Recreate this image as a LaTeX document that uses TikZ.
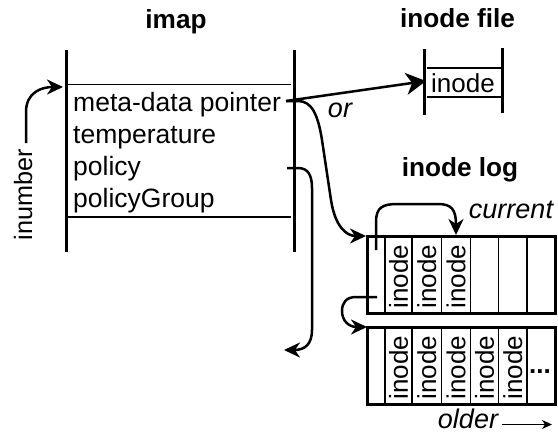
\documentclass[tikz,border=0pt]{standalone}
\usepackage{fontspec}
\setmainfont{Liberation Sans}
\usetikzlibrary{arrows.meta}
\begin{document}
\begin{tikzpicture}[x=1pt,y=-1pt,
  lbl/.style={font=\fontsize{26.5}{30}\selectfont, inner sep=0pt, anchor=base},
  ttl/.style={lbl, font=\fontsize{26.2}{30}\selectfont\bfseries},
  itl/.style={lbl, font=\fontsize{27}{30}\selectfont\itshape},
  rot/.style={font=\fontsize{26}{30}\selectfont, inner sep=0pt, rotate=90},
  wall/.style={line width=3pt},
  rule/.style={line width=1.3pt},
  link/.style={line width=2.5pt, -{Stealth[length=16pt,width=15pt,inset=5pt]}},
  biglink/.style={line width=2.5pt, -{Stealth[length=20pt,width=22pt,inset=6pt]}},
  thinlink/.style={line width=1.5pt, -{Stealth[length=10pt,width=9pt,inset=3pt]}}
]
\path[use as bounding box] (0,0) rectangle (558,434);

% ---- imap table ----
\node[ttl] (imapT) at (176,28) {imap};
\draw[wall] (66,50) -- (66,252);
\draw[wall] (294,50) -- (294,252);
\draw[rule] (66,84.5) -- (291,84.5);
\draw[rule] (66,217) -- (291,217);
\node[lbl, anchor=base west] (md)  at (73,111.5) {meta-data pointer};
\node[lbl, anchor=base west] (tp)  at (73,143)   {temperature};
\node[lbl, anchor=base west] (pol) at (73,175)   {policy};
\node[lbl, anchor=base west] (pg)  at (73,207)   {policyGroup};

% inumber index into the table
\node[rot, font=\fontsize{25.2}{30}\selectfont, anchor=base] (inum) at (32,195) {inumber};
\coordinate (inumTop) at (26,143);
\coordinate (imapIn) at (63,87);
\draw[link] (inumTop) -- (26,112) .. controls (26,92) and (42,87) .. (imapIn);

% ---- inode file ----
\node[ttl] (fileT) at (457.5,27.3) {inode file};
\draw[wall] (424.5,49) -- (424.5,115);
\draw[wall] (502.5,48) -- (502.5,113);
\draw[rule] (427,68) -- (502,68);
\draw[rule] (427,97) -- (502,97);
\node[lbl, font=\fontsize{26}{30}\selectfont] (finode) at (463,92) {inode};

\coordinate (mdOut) at (286,101);
\coordinate (fileIn) at (426,81);
\draw[biglink] (mdOut) -- (fileIn);
\node[itl] (orT) at (340,117.3) {or};

% ---- inode log ----
\node[ttl] (logT) at (460,176.7) {inode log};
\draw[wall] (367.5,236) rectangle (555,313.5);
\draw[wall] (367.5,327) rectangle (555,404);
\foreach \x in {385,412,441.5,470.5,498.5,527} {
  \draw[rule] (\x,236) -- (\x,313.5);
  \draw[rule] (\x,327) -- (\x,404);
}
\foreach \x/\n in {398.5/a,426.75/b,456/c}
  \node[rot, xshift=-2.5pt] (s1\n) at (\x,274) {inode};
\foreach \x/\n in {398.5/a,426.75/b,456/c,484.5/d,512.75/e}
  \node[rot, xshift=-2.5pt] (s2\n) at (\x,365) {inode};
\node[lbl, font=\fontsize{26}{30}\selectfont\bfseries] (dots) at (540,373) {...};

% pointer from the imap into the log
\coordinate (logIn) at (366,236);
\draw[link] (mdOut) -- (298,101) .. controls (312,101) and (318,115) .. (322,140)
  -- (331,200) .. controls (335,226) and (346,236) .. (logIn);

% policy pointer
\coordinate (polOut) at (287,168);
\coordinate (polEnd) at (284,350);
\draw[link] (polOut) -- (298,168) .. controls (308,168) and (312,175) .. (312,188)
  -- (312,330) .. controls (312,344) and (305,350) .. (polEnd);

% current slot
\coordinate (curStart) at (376,250);
\coordinate (curEnd) at (456,235);
\draw[link] (curStart) -- (376,222) .. controls (376,207) and (383,204) .. (398,204)
  -- (438,204) .. controls (452,204) and (456,210) .. (curEnd);
\node[itl] (curT) at (511,218.3) {current};

% chain to the older segment
\coordinate (b1Out) at (377,297);
\coordinate (b2In) at (367,327);
\draw[link] (b1Out) -- (356,297) .. controls (346,297) and (342,303) .. (342,311)
  .. controls (342,320) and (348,327) .. (b2In);

% older direction
\node[itl] (oldT) at (468,428.5) {older};
\coordinate (oldA) at (502,424.5);
\coordinate (oldB) at (552,424.5);
\draw[thinlink] (oldA) -- (oldB);
\end{tikzpicture}
\end{document}
